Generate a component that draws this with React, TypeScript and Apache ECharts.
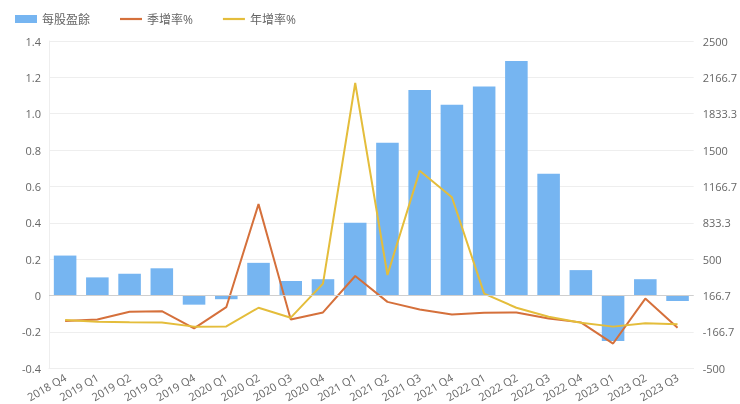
import React, { useEffect, useRef } from "react";
import * as echarts from "echarts";

const quarters = [
  "2018 Q4", "2019 Q1", "2019 Q2", "2019 Q3", "2019 Q4",
  "2020 Q1", "2020 Q2", "2020 Q3", "2020 Q4", "2021 Q1",
  "2021 Q2", "2021 Q3", "2021 Q4", "2022 Q1", "2022 Q2",
  "2022 Q3", "2022 Q4", "2023 Q1", "2023 Q2", "2023 Q3",
];

// 每股盈餘 (left axis)
const eps = [
  0.22, 0.1, 0.12, 0.15, -0.05, -0.02, 0.18, 0.08, 0.09, 0.4,
  0.84, 1.13, 1.05, 1.15, 1.29, 0.67, 0.14, -0.25, 0.09, -0.03,
];

// 季增率% (right axis)
const qoq = [
  -67, -52, 18, 24, -134, 60, 1005, -52, 12, 346,
  109, 39, -6, 9, 12, -43, -79, -273, 139, -128,
];

// 年增率% (right axis)
const yoy = [
  -58, -73, -79, -80, -118, -116, 55, -36, 276, 2115,
  355, 1310, 1068, 185, 55, -27, -82, -118, -88, -97,
];

const textColor = "#666";
const lineGray = "#eeeeee";
const font = "'Open Sans', 'Noto Sans CJK TC', sans-serif";
const lineIcon = "path://M0,0 L20,0 L20,2 L0,2 Z";

const App: React.FC = () => {
  const chartRef = useRef<HTMLDivElement>(null);

  useEffect(() => {
    const chart = echarts.init(chartRef.current!, undefined, { renderer: "svg" });

    chart.setOption({
      animation: false,
      textStyle: { fontFamily: font },
      color: ["#76b5f1", "#d5703b", "#e4bd3b"],
      legend: {
        left: 10,
        top: 8,
        itemWidth: 22,
        itemHeight: 8,
        itemGap: 30,
        textStyle: { color: textColor, fontSize: 12, fontFamily: font },
        data: [
          { name: "每股盈餘", icon: "rect" },
          { name: "季增率%", icon: lineIcon },
          { name: "年增率%", icon: lineIcon },
        ],
      },
      grid: { left: 49, right: 40, top: 41, bottom: 35 },
      xAxis: {
        type: "category",
        data: quarters,
        axisLine: { onZero: false, lineStyle: { color: lineGray } },
        axisTick: { show: false },
        axisLabel: { rotate: 30, fontSize: 11, color: textColor, margin: 8, interval: 0 },
      },
      yAxis: [
        {
          type: "value",
          min: -0.4,
          max: 1.4,
          interval: 0.2,
          axisLine: { show: true, lineStyle: { color: lineGray } },
          axisTick: { show: false },
          splitLine: { lineStyle: { color: lineGray } },
          axisLabel: {
            fontSize: 11,
            color: textColor,
            formatter: (v: number) => (Math.abs(v) < 1e-9 ? "0" : v.toFixed(1)),
          },
        },
        {
          type: "value",
          min: -500,
          max: 2500,
          alignTicks: true,
          axisLine: { show: false },
          axisTick: { show: false },
          splitLine: { show: false },
          axisLabel: {
            fontSize: 11,
            color: textColor,
            margin: 9,
            formatter: (v: number) => String(parseFloat(v.toFixed(1))),
          },
        },
      ],
      series: [
        {
          name: "每股盈餘",
          type: "bar",
          data: eps,
          barWidth: "70%",
          markLine: {
            silent: true,
            symbol: "none",
            label: { show: false },
            lineStyle: { color: "#cfcfcf", type: "solid", width: 1 },
            data: [{ yAxis: 0 }],
          },
        },
        {
          name: "季增率%",
          type: "line",
          yAxisIndex: 1,
          data: qoq,
          symbol: "none",
          lineStyle: { width: 2 },
        },
        {
          name: "年增率%",
          type: "line",
          yAxisIndex: 1,
          data: yoy,
          symbol: "none",
          lineStyle: { width: 2 },
        },
      ],
    });

    return () => {
      chart.dispose();
    };
  }, []);

  return (
    <div
      ref={chartRef}
      style={{ position: "fixed", left: 0, top: 0, width: "740px", height: "404px" }}
    />
  );
};

export default App;
